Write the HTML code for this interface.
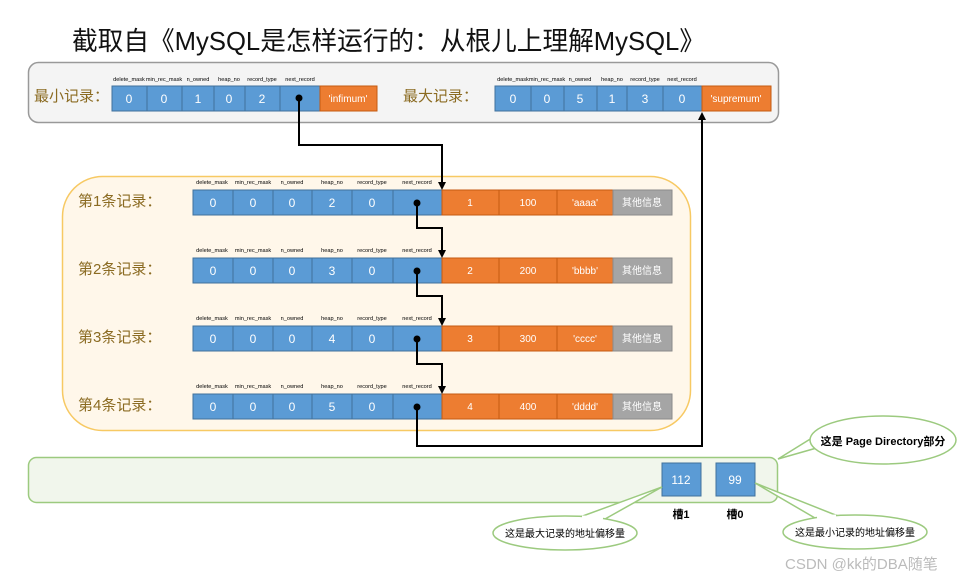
<!DOCTYPE html>
<html><head><meta charset="utf-8"><style>
html,body{margin:0;padding:0;background:#fff;width:971px;height:581px;overflow:hidden}
svg{display:block;font-family:"Liberation Sans","Noto Sans CJK SC",sans-serif}
.b{fill:#5b9bd5;stroke:#41719c;stroke-width:1}
.o{fill:#ed7d31;stroke:#c55a11;stroke-width:1}
.g{fill:#a5a5a5;stroke:#8a8a8a;stroke-width:1}
.v{fill:#fff;font-size:12px;text-anchor:middle}
.s{fill:#fff;font-size:10px;text-anchor:middle}
.c{fill:#000;font-size:5.6px;text-anchor:middle}
.l{fill:#8b6b22;font-size:15px}
.w{stroke:#000;stroke-width:2;fill:none}
</style></head><body>
<svg width="971" height="581" viewBox="0 0 971 581">
<text x="72" y="50" font-size="26" fill="#111" textLength="633" lengthAdjust="spacingAndGlyphs">截取自《MySQL是怎样运行的：从根儿上理解MySQL》</text>

<rect x="28.5" y="62.5" width="750" height="60" rx="10" fill="#f4f4f4" stroke="#999" stroke-width="1.5"/>
<text x="34" y="101" class="l">最小记录：</text>
<text x="403" y="101" class="l">最大记录：</text>
<g>
<rect class="b" x="112" y="86" width="35" height="25"/><rect class="b" x="147" y="86" width="35" height="25"/><rect class="b" x="182" y="86" width="32" height="25"/><rect class="b" x="214" y="86" width="31" height="25"/><rect class="b" x="245" y="86" width="35" height="25"/><rect class="b" x="280" y="86" width="40" height="25"/><rect class="o" x="320" y="86" width="57" height="25"/>
<text class="v" x="129" y="103">0</text><text class="v" x="164" y="103">0</text><text class="v" x="198" y="103">1</text><text class="v" x="229" y="103">0</text><text class="v" x="262" y="103">2</text><text class="s" x="348" y="102">'infimum'</text>
<text class="c" x="129" y="81">delete_mask</text><text class="c" x="164" y="81">min_rec_mask</text><text class="c" x="198" y="81">n_owned</text><text class="c" x="229" y="81">heap_no</text><text class="c" x="262" y="81">record_type</text><text class="c" x="300" y="81">next_record</text>
</g>
<g>
<rect class="b" x="495" y="86" width="36" height="25"/><rect class="b" x="531" y="86" width="33" height="25"/><rect class="b" x="564" y="86" width="33" height="25"/><rect class="b" x="597" y="86" width="30" height="25"/><rect class="b" x="627" y="86" width="36" height="25"/><rect class="b" x="663" y="86" width="39" height="25"/><rect class="o" x="702" y="86" width="69" height="25"/>
<text class="v" x="513" y="103">0</text><text class="v" x="547" y="103">0</text><text class="v" x="580" y="103">5</text><text class="v" x="612" y="103">1</text><text class="v" x="645" y="103">3</text><text class="v" x="682" y="103">0</text><text class="s" x="736" y="102">'supremum'</text>
<text class="c" x="513" y="81">delete_mask</text><text class="c" x="547" y="81">min_rec_mask</text><text class="c" x="580" y="81">n_owned</text><text class="c" x="612" y="81">heap_no</text><text class="c" x="645" y="81">record_type</text><text class="c" x="682" y="81">next_record</text>
</g>

<rect x="62.5" y="176.5" width="628" height="254" rx="40" fill="#fff7ea" stroke="#f7c963" stroke-width="1.5"/>

<g transform="translate(0,0)">
<text x="78" y="206" class="l">第1条记录：</text>
<rect class="b" x="193" y="190" width="40" height="25"/><rect class="b" x="233" y="190" width="40" height="25"/><rect class="b" x="273" y="190" width="39" height="25"/><rect class="b" x="312" y="190" width="40" height="25"/><rect class="b" x="352" y="190" width="41" height="25"/><rect class="b" x="393" y="190" width="49" height="25"/>
<rect class="o" x="442" y="190" width="57" height="25"/><rect class="o" x="499" y="190" width="58" height="25"/><rect class="o" x="557" y="190" width="56" height="25"/><rect class="g" x="613" y="190" width="59" height="25"/>
<text class="v" x="213" y="207">0</text><text class="v" x="253" y="207">0</text><text class="v" x="292" y="207">0</text><text class="v" x="332" y="207">2</text><text class="v" x="372" y="207">0</text>
<text class="s" x="470" y="206">1</text><text class="s" x="528" y="206">100</text><text class="s" x="585" y="206">'aaaa'</text><text class="s" x="642" y="206">其他信息</text>
<text class="c" x="212" y="184">delete_mask</text><text class="c" x="253" y="184">min_rec_mask</text><text class="c" x="292" y="184">n_owned</text><text class="c" x="332" y="184">heap_no</text><text class="c" x="372" y="184">record_type</text><text class="c" x="417" y="184">next_record</text>
</g>
<g transform="translate(0,68)">
<text x="78" y="206" class="l">第2条记录：</text>
<rect class="b" x="193" y="190" width="40" height="25"/><rect class="b" x="233" y="190" width="40" height="25"/><rect class="b" x="273" y="190" width="39" height="25"/><rect class="b" x="312" y="190" width="40" height="25"/><rect class="b" x="352" y="190" width="41" height="25"/><rect class="b" x="393" y="190" width="49" height="25"/>
<rect class="o" x="442" y="190" width="57" height="25"/><rect class="o" x="499" y="190" width="58" height="25"/><rect class="o" x="557" y="190" width="56" height="25"/><rect class="g" x="613" y="190" width="59" height="25"/>
<text class="v" x="213" y="207">0</text><text class="v" x="253" y="207">0</text><text class="v" x="292" y="207">0</text><text class="v" x="332" y="207">3</text><text class="v" x="372" y="207">0</text>
<text class="s" x="470" y="206">2</text><text class="s" x="528" y="206">200</text><text class="s" x="585" y="206">'bbbb'</text><text class="s" x="642" y="206">其他信息</text>
<text class="c" x="212" y="184">delete_mask</text><text class="c" x="253" y="184">min_rec_mask</text><text class="c" x="292" y="184">n_owned</text><text class="c" x="332" y="184">heap_no</text><text class="c" x="372" y="184">record_type</text><text class="c" x="417" y="184">next_record</text>
</g>
<g transform="translate(0,136)">
<text x="78" y="206" class="l">第3条记录：</text>
<rect class="b" x="193" y="190" width="40" height="25"/><rect class="b" x="233" y="190" width="40" height="25"/><rect class="b" x="273" y="190" width="39" height="25"/><rect class="b" x="312" y="190" width="40" height="25"/><rect class="b" x="352" y="190" width="41" height="25"/><rect class="b" x="393" y="190" width="49" height="25"/>
<rect class="o" x="442" y="190" width="57" height="25"/><rect class="o" x="499" y="190" width="58" height="25"/><rect class="o" x="557" y="190" width="56" height="25"/><rect class="g" x="613" y="190" width="59" height="25"/>
<text class="v" x="213" y="207">0</text><text class="v" x="253" y="207">0</text><text class="v" x="292" y="207">0</text><text class="v" x="332" y="207">4</text><text class="v" x="372" y="207">0</text>
<text class="s" x="470" y="206">3</text><text class="s" x="528" y="206">300</text><text class="s" x="585" y="206">'cccc'</text><text class="s" x="642" y="206">其他信息</text>
<text class="c" x="212" y="184">delete_mask</text><text class="c" x="253" y="184">min_rec_mask</text><text class="c" x="292" y="184">n_owned</text><text class="c" x="332" y="184">heap_no</text><text class="c" x="372" y="184">record_type</text><text class="c" x="417" y="184">next_record</text>
</g>
<g transform="translate(0,204)">
<text x="78" y="206" class="l">第4条记录：</text>
<rect class="b" x="193" y="190" width="40" height="25"/><rect class="b" x="233" y="190" width="40" height="25"/><rect class="b" x="273" y="190" width="39" height="25"/><rect class="b" x="312" y="190" width="40" height="25"/><rect class="b" x="352" y="190" width="41" height="25"/><rect class="b" x="393" y="190" width="49" height="25"/>
<rect class="o" x="442" y="190" width="57" height="25"/><rect class="o" x="499" y="190" width="58" height="25"/><rect class="o" x="557" y="190" width="56" height="25"/><rect class="g" x="613" y="190" width="59" height="25"/>
<text class="v" x="213" y="207">0</text><text class="v" x="253" y="207">0</text><text class="v" x="292" y="207">0</text><text class="v" x="332" y="207">5</text><text class="v" x="372" y="207">0</text>
<text class="s" x="470" y="206">4</text><text class="s" x="528" y="206">400</text><text class="s" x="585" y="206">'dddd'</text><text class="s" x="642" y="206">其他信息</text>
<text class="c" x="212" y="184">delete_mask</text><text class="c" x="253" y="184">min_rec_mask</text><text class="c" x="292" y="184">n_owned</text><text class="c" x="332" y="184">heap_no</text><text class="c" x="372" y="184">record_type</text><text class="c" x="417" y="184">next_record</text>
</g>

<circle cx="299" cy="98" r="3.5" fill="#000"/>
<polyline class="w" points="299,98 299,145 442,145 442,183"/>
<path d="M438,182 L446,182 L442,190z"/>
<circle cx="417" cy="203" r="3.5" fill="#000"/>
<polyline class="w" points="417,203 417,228 442,228 442,251"/>
<path d="M438,250 L446,250 L442,258z"/>
<circle cx="417" cy="271" r="3.5" fill="#000"/>
<polyline class="w" points="417,271 417,296 442,296 442,319"/>
<path d="M438,318 L446,318 L442,326z"/>
<circle cx="417" cy="339" r="3.5" fill="#000"/>
<polyline class="w" points="417,339 417,364 442,364 442,387"/>
<path d="M438,386 L446,386 L442,394z"/>
<circle cx="417" cy="407" r="3.5" fill="#000"/>
<polyline class="w" points="417,407 417,446 702,446 702,119"/>
<path d="M698,120 L706,120 L702,112z"/>

<rect x="28.5" y="457.5" width="749" height="45" rx="8" fill="#f1f6ec" stroke="#9cca7f" stroke-width="1.5"/>
<rect class="b" x="662" y="463" width="39" height="33"/>
<rect class="b" x="716" y="463" width="39" height="33"/>
<text class="v" x="681" y="484">112</text>
<text class="v" x="735" y="484">99</text>
<text x="681" y="518" font-size="11" font-weight="bold" text-anchor="middle">槽1</text>
<text x="735" y="518" font-size="11" font-weight="bold" text-anchor="middle">槽0</text>

<path d="M778,459 L820,447 L820,433 z" fill="#fff" stroke="#9cca7f" stroke-width="1.5"/>
<ellipse cx="883" cy="440" rx="73" ry="24" fill="#fff" stroke="#9cca7f" stroke-width="1.5"/>
<path d="M820,447 L822,434" stroke="#fff" stroke-width="3"/>
<text x="883" y="445" font-size="11" font-weight="bold" text-anchor="middle">这是 Page Directory部分</text>

<path d="M662,487 L580,517 L605,519 z" fill="#fff" stroke="#9cca7f" stroke-width="1.5"/>
<ellipse cx="565" cy="533" rx="72" ry="17" fill="#fff" stroke="#9cca7f" stroke-width="1.5"/>
<path d="M582,517 L603,518" stroke="#fff" stroke-width="3"/>
<text x="565" y="537" font-size="10" text-anchor="middle">这是最大记录的地址偏移量</text>

<path d="M755,483 L815,518 L838,516 z" fill="#fff" stroke="#9cca7f" stroke-width="1.5"/>
<ellipse cx="855" cy="532" rx="72" ry="17" fill="#fff" stroke="#9cca7f" stroke-width="1.5"/>
<path d="M817,517 L836,516" stroke="#fff" stroke-width="3"/>
<text x="855" y="536" font-size="10" text-anchor="middle">这是最小记录的地址偏移量</text>

<text x="785" y="569" font-size="15" fill="#bbb">CSDN @kk的DBA随笔</text>
</svg>
</body></html>
